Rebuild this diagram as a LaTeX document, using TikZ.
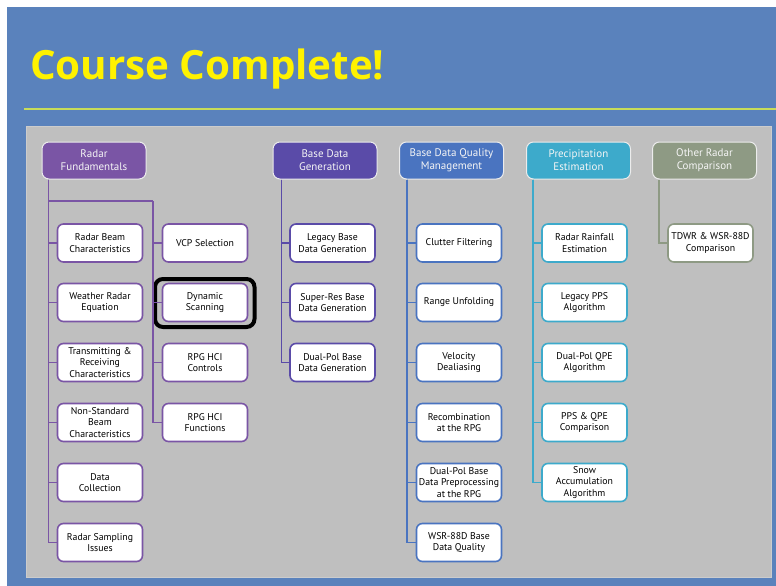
\documentclass[tikz,border=0pt]{standalone}
\usepackage{fontspec}
\setmainfont{PT Sans}
\newfontfamily\titlefont{Open Sans}
\usepackage{tikz}
\usetikzlibrary{positioning,calc}
\definecolor{slideblue}{HTML}{5A82BC}
\definecolor{panelgray}{HTML}{BFBFBF}
\definecolor{rfcol}{HTML}{7A55A5}
\definecolor{bdgcol}{HTML}{5A4BA8}
\definecolor{bdqcol}{HTML}{4A74C0}
\definecolor{pecol}{HTML}{3DAACB}
\definecolor{orcol}{HTML}{8E9A84}
\definecolor{rulecol}{HTML}{C8DC5A}
\tikzstyle{head}  =[draw=white!85!gray, line width=1pt, rounded corners=7pt, minimum width=104pt,
                    minimum height=37pt, align=center, text=white!92!gray, inner sep=1pt,
                    font=\fontsize{11}{13}\selectfont]
\tikzstyle{topic} =[draw, fill=white, line width=1.6pt, rounded corners=6pt, minimum width=85pt,
                    minimum height=38pt, align=center, text=black, inner sep=1pt,
                    font=\fontsize{9.8}{11.6}\selectfont]
\tikzstyle{tree}  =[line width=1.8pt]

\begin{document}
\begin{tikzpicture}[x=1pt, y=-1pt]

  % ── slide background ──────────────────────────────────────────────────────
  \useasboundingbox (0,0) rectangle (776,586);
  \fill[white] (0,0) rectangle (776,586);
  \fill[slideblue] (7,7) rectangle (776,586);
  \draw[rulecol, line width=1.2pt] (24,109) -- (776,109);
  \fill[panelgray, draw=gray!40] (26,126) rectangle (771,577);

  \node[anchor=base west, inner sep=0, text=yellow,
        font=\titlefont\bfseries\fontsize{40.3}{44}\selectfont] (title) at (30,80) {Course Complete!};

  % ── headers ───────────────────────────────────────────────────────────────
  \node[head, fill=rfcol]  (rf)  at (94,160.5)    {Radar\\Fundamentals};
  \node[head, fill=bdgcol] (bdg) at (325,160.5)   {Base Data\\Generation};
  \node[head, fill=bdqcol] (bdq) at (451.5,160.5) {Base Data Quality\\Management};
  \node[head, fill=pecol]  (pe)  at (578.5,160.5) {Precipitation\\Estimation};
  \node[head, fill=orcol]  (or)  at (704.5,160.5) {Other Radar\\Comparison};

  % ── radar fundamentals ────────────────────────────────────────────────────
  \node[topic, draw=rfcol] (rbc) at (100,243)   {Radar Beam\\Characteristics};
  \node[topic, draw=rfcol] (wre) at (100,302.5) {Weather Radar\\Equation};
  \node[topic, draw=rfcol] (trc) at (100,362.5) {Transmitting \&\\Receiving\\Characteristics};
  \node[topic, draw=rfcol] (nsb) at (100,422.5) {Non-Standard\\Beam\\Characteristics};
  \node[topic, draw=rfcol] (dc)  at (100,482.5) {Data\\Collection};
  \node[topic, draw=rfcol] (rsi) at (100,542.5) {Radar Sampling\\Issues};

  \node[topic, draw=rfcol] (vcp) at (205,243)   {VCP Selection};
  \node[topic, draw=rfcol] (ds)  at (205,302.5) {Dynamic\\Scanning};
  \node[topic, draw=rfcol] (hcc) at (205,362.5) {RPG HCI\\Controls};
  \node[topic, draw=rfcol] (hcf) at (205,422.5) {RPG HCI\\Functions};

  \node[draw=black, line width=4pt, rounded corners=8pt, minimum width=99.5pt,
        minimum height=48pt] (hl) at (204.75,303) {};

  % ── base data generation ──────────────────────────────────────────────────
  \node[topic, draw=bdgcol] (lbd) at (332.5,243)   {Legacy Base\\Data Generation};
  \node[topic, draw=bdgcol] (srb) at (332.5,302.5) {Super-Res Base\\Data Generation};
  \node[topic, draw=bdgcol] (dpb) at (332.5,362.5) {Dual-Pol Base\\Data Generation};

  % ── base data quality management ──────────────────────────────────────────
  \node[topic, draw=bdqcol] (cf)  at (459,243)   {Clutter Filtering};
  \node[topic, draw=bdqcol] (ru)  at (459,302.5) {Range Unfolding};
  \node[topic, draw=bdqcol] (vd)  at (459,362.5) {Velocity\\Dealiasing};
  \node[topic, draw=bdqcol] (rec) at (459,422.5) {Recombination\\at the RPG};
  \node[topic, draw=bdqcol] (dpp) at (459,482.5) {Dual-Pol Base\\Data Preprocessing\\at the RPG};
  \node[topic, draw=bdqcol] (wbq) at (459,542.5) {WSR-88D Base\\Data Quality};

  % ── precipitation estimation ──────────────────────────────────────────────
  \node[topic, draw=pecol] (rre) at (584.5,243)   {Radar Rainfall\\Estimation};
  \node[topic, draw=pecol] (lpa) at (584.5,302.5) {Legacy PPS\\Algorithm};
  \node[topic, draw=pecol] (dqa) at (584.5,362.5) {Dual-Pol QPE\\Algorithm};
  \node[topic, draw=pecol] (pqc) at (584.5,422.5) {PPS \& QPE\\Comparison};
  \node[topic, draw=pecol] (saa) at (584.5,482.5) {Snow\\Accumulation\\Algorithm};

  % ── other radar comparison ────────────────────────────────────────────────
  \node[topic, draw=orcol] (twc) at (710.5,243) {TDWR \& WSR-88D\\Comparison};

  % ── tree lines ────────────────────────────────────────────────────────────
  \coordinate (rft)  at ($(rf.south west)+(7,0)$);
  \coordinate (rfb)  at (49,201);
  \coordinate (rfb2) at (153,201);
  \coordinate (bdgt) at ($(bdg.south west)+(9,0)$);
  \coordinate (bdqt) at ($(bdq.south west)+(8,0)$);
  \coordinate (pet)  at ($(pe.south west)+(7,0)$);
  \coordinate (ort)  at ($(or.south west)+(7,0)$);

  \draw[tree, rfcol] (rft) |- (rbc.west);
  \draw[tree, rfcol] (rft) |- (wre.west);
  \draw[tree, rfcol] (rft) |- (trc.west);
  \draw[tree, rfcol] (rft) |- (nsb.west);
  \draw[tree, rfcol] (rft) |- (dc.west);
  \draw[tree, rfcol] (rft) |- (rsi.west);
  \draw[tree, rfcol] (rfb) -- (rfb2);
  \draw[tree, rfcol] (rfb2) |- (vcp.west);
  \draw[tree, rfcol] (rfb2) |- (ds.west);
  \draw[tree, rfcol] (rfb2) |- (hcc.west);
  \draw[tree, rfcol] (rfb2) |- (hcf.west);

  \draw[tree, bdgcol] (bdgt) |- (lbd.west);
  \draw[tree, bdgcol] (bdgt) |- (srb.west);
  \draw[tree, bdgcol] (bdgt) |- (dpb.west);

  \draw[tree, bdqcol] (bdqt) |- (cf.west);
  \draw[tree, bdqcol] (bdqt) |- (ru.west);
  \draw[tree, bdqcol] (bdqt) |- (vd.west);
  \draw[tree, bdqcol] (bdqt) |- (rec.west);
  \draw[tree, bdqcol] (bdqt) |- (dpp.west);
  \draw[tree, bdqcol] (bdqt) |- (wbq.west);

  \draw[tree, pecol] (pet) |- (rre.west);
  \draw[tree, pecol] (pet) |- (lpa.west);
  \draw[tree, pecol] (pet) |- (dqa.west);
  \draw[tree, pecol] (pet) |- (pqc.west);
  \draw[tree, pecol] (pet) |- (saa.west);

  \draw[tree, orcol] (ort) |- (twc.west);

\end{tikzpicture}
\end{document}
